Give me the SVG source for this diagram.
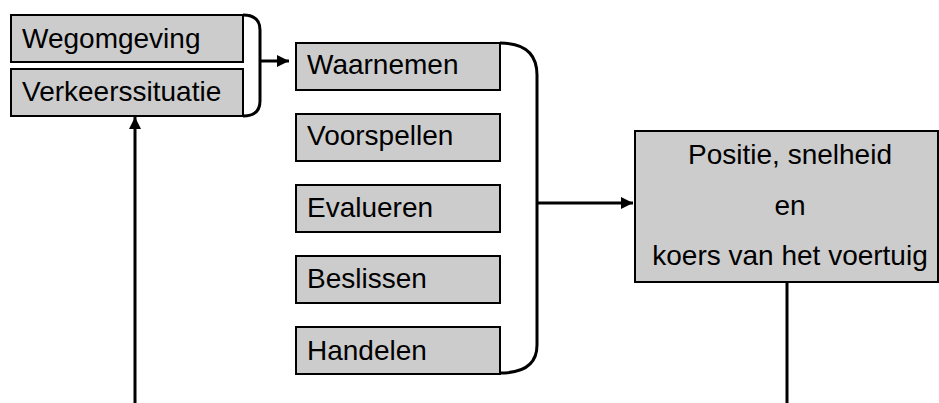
<svg xmlns="http://www.w3.org/2000/svg" width="939" height="403" viewBox="0 0 939 403">
  <style>
    .box { fill: #cccccc; stroke: #000; stroke-width: 2; }
    .lbl { font-family: "Liberation Sans", Arial, sans-serif; font-size: 28px; fill: #000; }
    .mid { text-anchor: middle; }
    .line { fill: none; stroke: #000; stroke-width: 3; }
  </style>
  <defs>
    <marker id="arrow" viewBox="0 0 10 10" refX="10" refY="5" markerWidth="4" markerHeight="4" orient="auto" markerUnits="strokeWidth">
      <path d="M0,0 L10,5 L0,10 Z" fill="#000"/>
    </marker>
  </defs>

  <rect width="939" height="403" fill="#fff"/>

  <g id="wegomgeving">
    <rect class="box" x="11" y="15" width="232" height="47"/>
    <text class="lbl" x="22" y="48">Wegomgeving</text>
  </g>
  <g id="verkeerssituatie">
    <rect class="box" x="11" y="69" width="232" height="47"/>
    <text class="lbl" x="22" y="101">Verkeerssituatie</text>
  </g>

  <g id="waarnemen">
    <rect class="box" x="296" y="43" width="204" height="47"/>
    <text class="lbl" x="307" y="74">Waarnemen</text>
  </g>
  <g id="voorspellen">
    <rect class="box" x="296" y="114" width="204" height="47"/>
    <text class="lbl" x="307" y="145">Voorspellen</text>
  </g>
  <g id="evalueren">
    <rect class="box" x="296" y="185" width="204" height="47"/>
    <text class="lbl" x="307" y="217">Evalueren</text>
  </g>
  <g id="beslissen">
    <rect class="box" x="296" y="256" width="204" height="47"/>
    <text class="lbl" x="307" y="288">Beslissen</text>
  </g>
  <g id="handelen">
    <rect class="box" x="296" y="327" width="204" height="47"/>
    <text class="lbl" x="307" y="360">Handelen</text>
  </g>

  <g id="positie">
    <rect class="box" x="635" y="131" width="303" height="151"/>
    <text class="lbl mid" x="790" y="164">Positie, snelheid</text>
    <text class="lbl mid" x="790" y="215">en</text>
    <text class="lbl mid" x="790" y="265">koers van het voertuig</text>
  </g>

  <g id="connectors">
    <!-- brace around the two input boxes -->
    <path class="line" d="M243,15 Q260,15 260,30 L260,101 Q260,116 243,116"/>
    <line class="line" x1="260" y1="61" x2="289" y2="61" marker-end="url(#arrow)"/>
    <!-- brace around the five task boxes -->
    <path class="line" d="M500,43 Q537,43 537,75 L537,345 Q537,373 500,373"/>
    <line class="line" x1="537" y1="203" x2="633" y2="203" marker-end="url(#arrow)"/>
    <!-- feedback lines -->
    <line class="line" x1="787" y1="282" x2="787" y2="403"/>
    <line class="line" x1="135" y1="403" x2="135" y2="117" marker-end="url(#arrow)"/>
  </g>
</svg>
